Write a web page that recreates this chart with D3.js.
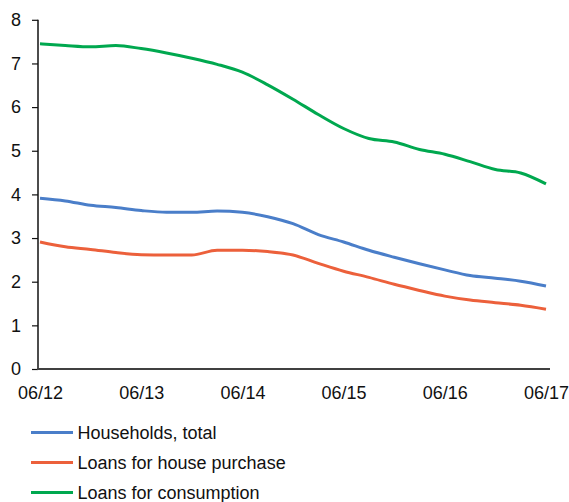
<!DOCTYPE html>
<html>
<head>
<meta charset="utf-8">
<script src="https://cdn.jsdelivr.net/npm/d3@7"></script>
<style>
  body { margin: 0; background: #fff; }
  svg text { font-family: "Liberation Sans", Arial, sans-serif; fill: #111; }
</style>
</head>
<body>
<svg id="chart" width="569" height="502"></svg>
<script>
// Quarterly observations, 06/12 through 06/17
const quarters = d3.range(21);
const tickLabels = ["06/12", "06/13", "06/14", "06/15", "06/16", "06/17"];
const yTicks = [0, 1, 2, 3, 4, 5, 6, 7, 8];

const householdsTotal = [3.91, 3.85, 3.75, 3.70, 3.63, 3.59, 3.59, 3.62, 3.59, 3.49, 3.33,
                         3.08, 2.91, 2.72, 2.56, 2.41, 2.27, 2.14, 2.08, 2.01, 1.90];
const housePurchase   = [2.91, 2.80, 2.74, 2.67, 2.62, 2.61, 2.61, 2.72, 2.72, 2.69, 2.61,
                         2.42, 2.24, 2.10, 1.94, 1.80, 1.67, 1.58, 1.52, 1.46, 1.37];
const consumption     = [7.45, 7.41, 7.38, 7.41, 7.34, 7.24, 7.12, 6.98, 6.80, 6.51, 6.18,
                         5.83, 5.51, 5.28, 5.20, 5.03, 4.92, 4.75, 4.57, 4.49, 4.24];

const seriesNames = ["Households, total", "Loans for house purchase", "Loans for consumption"];
const seriesColors = ["#4a7ec9", "#ec603b", "#00a84f"];
const seriesValues = [householdsTotal, housePurchase, consumption];

const svg = d3.select("#chart");

const x = d3.scaleLinear().domain([0, 20]).range([40, 546]);
const y = d3.scaleLinear().domain([0, 8]).range([369, 19.8]);

// y axis
const yAxis = svg.append("g")
  .attr("transform", "translate(38,0)")
  .call(d3.axisLeft(y).tickValues(yTicks).tickSize(6).tickPadding(11).tickFormat(d3.format("d")));
yAxis.select(".domain").attr("stroke", "#111").attr("stroke-width", 1.5).attr("d", `M0,${y(8)}V${y(0)}`);
yAxis.selectAll(".tick line").attr("stroke", "#111").attr("stroke-width", 1.2);
yAxis.selectAll(".tick text").attr("font-size", 18).attr("fill", "#111");

// x axis
const xAxis = svg.append("g")
  .attr("transform", `translate(0,${y(0)})`)
  .call(d3.axisBottom(x).tickValues([0, 4, 8, 12, 16, 20])
    .tickFormat((d, i) => tickLabels[i]).tickSize(0).tickPadding(17));
xAxis.select(".domain").attr("stroke", "#404040").attr("stroke-width", 2).attr("d", "M37,0H550");
xAxis.selectAll(".tick text").attr("font-size", 18).attr("fill", "#111");

// series lines
const line = d3.line().x((d, i) => x(quarters[i])).y(d => y(d)).curve(d3.curveMonotoneX);
seriesValues.forEach((vals, k) => {
  svg.append("path")
    .datum(vals)
    .attr("fill", "none")
    .attr("stroke", seriesColors[k])
    .attr("stroke-width", 3)
    .attr("stroke-linejoin", "round")
    .attr("d", line);
});

// legend
const legend = svg.append("g").attr("transform", "translate(31,432.5)");
seriesNames.forEach((name, k) => {
  const g = legend.append("g").attr("transform", `translate(0,${k * 30})`);
  g.append("line").attr("x1", 0).attr("x2", 42).attr("y1", 0).attr("y2", 0)
    .attr("stroke", seriesColors[k]).attr("stroke-width", 3);
  g.append("text").attr("x", 46.5).attr("y", 0).attr("dy", "0.36em")
    .attr("font-size", 18).text(name);
});
</script>
</body>
</html>
